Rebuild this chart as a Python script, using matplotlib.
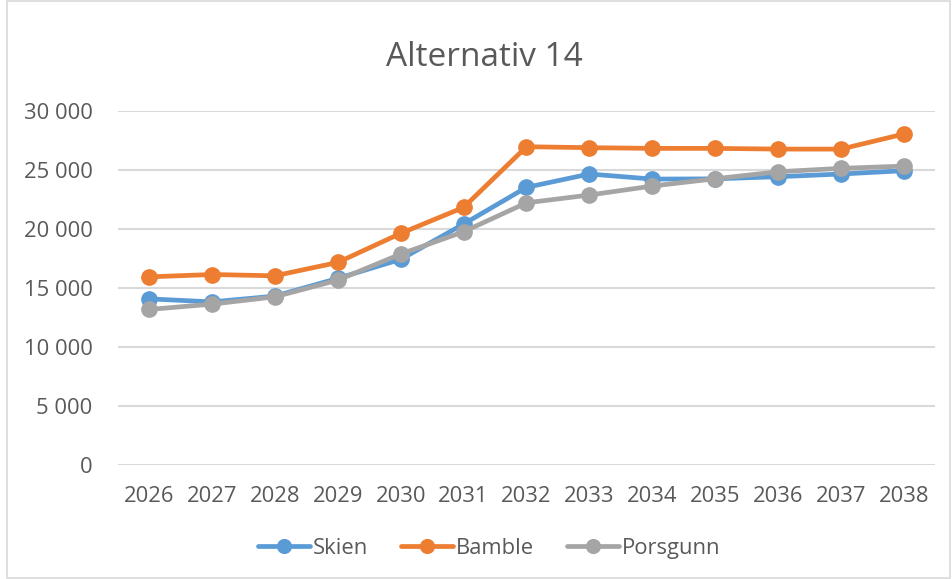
import matplotlib
matplotlib.use("Agg")
import matplotlib.pyplot as plt
from matplotlib.patches import Rectangle
from matplotlib.ticker import FuncFormatter

years = [str(y) for y in range(2026, 2039)]
skien = [14070, 13810, 14300, 15800, 17410, 20400, 23510, 24640, 24210, 24230, 24410, 24640, 24920]
bamble = [15930, 16130, 16020, 17150, 19610, 21810, 26950, 26870, 26810, 26810, 26750, 26750, 28030]
porsgunn = [13170, 13620, 14240, 15650, 17860, 19750, 22200, 22860, 23620, 24240, 24830, 25120, 25310]

series = [("Skien", skien, "#5B9BD5"),
          ("Bamble", bamble, "#ED7D31"),
          ("Porsgunn", porsgunn, "#A5A5A5")]

plt.rcParams["font.family"] = ["Open Sans", "DejaVu Sans"]
text_col = "#595959"

fig = plt.figure(figsize=(9.53, 5.79), dpi=100)
fig.patches.append(Rectangle((0.007, 0.002), 0.99, 0.996, transform=fig.transFigure,
                             fill=False, edgecolor="#D9D9D9", linewidth=1.2))
ax = fig.add_axes([0.1233, 0.1969, 0.8583, 0.6119])

x = range(len(years))
for name, vals, col in series:
    ax.plot(x, vals, color=col, linewidth=3.4, marker="o", markersize=11,
            label=name, solid_capstyle="round", zorder=3)

ax.set_xlim(-0.5, len(years) - 0.5)
ax.set_ylim(0, 30000)
ax.set_yticks(range(0, 30001, 5000))
ax.yaxis.set_major_formatter(FuncFormatter(lambda v, p: f"{int(v):,}".replace(",", " ")))
ax.set_xticks(list(x))
ax.set_xticklabels(years)

ax.grid(axis="y", color="#D9D9D9", linewidth=1.5, zorder=0)
for s in ax.spines.values():
    s.set_visible(False)
ax.tick_params(axis="both", length=0, labelsize=15.8, colors=text_col)
ax.tick_params(axis="y", pad=18)
ax.tick_params(axis="x", pad=15)

fig.text(0.508, 0.9, "Alternativ 14", ha="center", va="center",
         fontsize=24, color=text_col)

leg = ax.legend(loc="center", bbox_to_anchor=(0.513, 0.053), bbox_transform=fig.transFigure,
                ncol=3, frameon=False, fontsize=15.8, handlelength=2.4,
                handletextpad=0.1, columnspacing=1.5, markerscale=0.9)
for t in leg.get_texts():
    t.set_color(text_col)

fig.savefig("out.png", dpi=100)
